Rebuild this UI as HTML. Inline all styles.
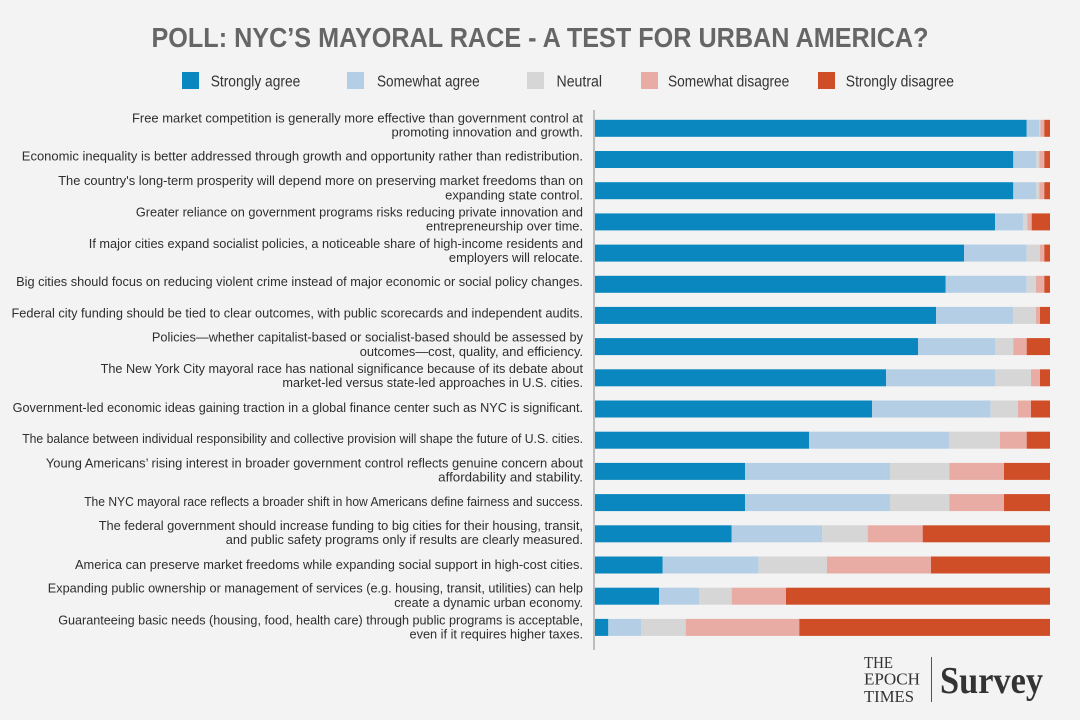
<!DOCTYPE html>
<html>
<head>
<meta charset="utf-8">
<style>
  html, body { margin: 0; padding: 0; background: #f3f3f3; }
  svg { display: block; }
  .lab { font-family: "Liberation Sans", sans-serif; font-size: 13px; fill: #2e2e2e; }
  .leg { font-family: "Liberation Sans", sans-serif; font-size: 15.5px; fill: #333; }
</style>
</head>
<body>
<svg width="1080" height="720" viewBox="0 0 1080 720" xmlns="http://www.w3.org/2000/svg">
  <rect x="0" y="0" width="1080" height="720" fill="#f3f3f3"/>

  <!-- Title -->
  <text x="151.5" y="47" font-family="Liberation Sans, sans-serif" font-weight="bold" font-size="28" fill="#666666" textLength="777" lengthAdjust="spacingAndGlyphs">POLL: NYC’S MAYORAL RACE - A TEST FOR URBAN AMERICA?</text>

  <!-- Legend -->
  <rect x="182" y="72" width="17" height="17" fill="#0b87bf"/>
  <text class="leg" x="210.7" y="86.5" textLength="89.6" lengthAdjust="spacingAndGlyphs">Strongly agree</text>
  <rect x="347" y="72" width="17" height="17" fill="#b4cfe5"/>
  <text class="leg" x="377" y="86.5" textLength="102.7" lengthAdjust="spacingAndGlyphs">Somewhat agree</text>
  <rect x="527" y="72" width="17" height="17" fill="#d6d6d6"/>
  <text class="leg" x="556.5" y="86.5" textLength="45.5" lengthAdjust="spacingAndGlyphs">Neutral</text>
  <rect x="641" y="72" width="17" height="17" fill="#e8aca4"/>
  <text class="leg" x="668" y="86.5" textLength="121.3" lengthAdjust="spacingAndGlyphs">Somewhat disagree</text>
  <rect x="818" y="72" width="17" height="17" fill="#d04e27"/>
  <text class="leg" x="845.8" y="86.5" textLength="108.2" lengthAdjust="spacingAndGlyphs">Strongly disagree</text>

  <!-- Axis line -->
  <line x1="594" y1="110" x2="594" y2="650" stroke="#8a8a8a" stroke-width="1"/>

  <g id="bars"></g>
  <g id="labels"></g>

  <!-- Bars (static) -->
  <g>
    <!-- Row 1 top 119.8 -->
    <rect x="595" y="119.8" width="431.7" height="17" fill="#0b87bf"/>
    <rect x="1026.7" y="119.8" width="12.3" height="17" fill="#b4cfe5"/>
    <rect x="1039" y="119.8" width="1.5" height="17" fill="#d6d6d6"/>
    <rect x="1040.5" y="119.8" width="3.8" height="17" fill="#e8aca4"/>
    <rect x="1044.3" y="119.8" width="5.7" height="17" fill="#d04e27"/>
    <!-- Row 2 top 151.0 -->
    <rect x="595" y="151.0" width="418.3" height="17" fill="#0b87bf"/>
    <rect x="1013.3" y="151.0" width="22.7" height="17" fill="#b4cfe5"/>
    <rect x="1036" y="151.0" width="3.3" height="17" fill="#d6d6d6"/>
    <rect x="1039.3" y="151.0" width="5" height="17" fill="#e8aca4"/>
    <rect x="1044.3" y="151.0" width="5.7" height="17" fill="#d04e27"/>
    <!-- Row 3 top 182.2 -->
    <rect x="595" y="182.2" width="418.3" height="17" fill="#0b87bf"/>
    <rect x="1013.3" y="182.2" width="22.7" height="17" fill="#b4cfe5"/>
    <rect x="1036" y="182.2" width="3.3" height="17" fill="#d6d6d6"/>
    <rect x="1039.3" y="182.2" width="5" height="17" fill="#e8aca4"/>
    <rect x="1044.3" y="182.2" width="5.7" height="17" fill="#d04e27"/>
    <!-- Row 4 top 213.4 -->
    <rect x="595" y="213.4" width="400" height="17" fill="#0b87bf"/>
    <rect x="995" y="213.4" width="28.3" height="17" fill="#b4cfe5"/>
    <rect x="1023.3" y="213.4" width="4" height="17" fill="#d6d6d6"/>
    <rect x="1027.3" y="213.4" width="4.4" height="17" fill="#e8aca4"/>
    <rect x="1031.7" y="213.4" width="18.3" height="17" fill="#d04e27"/>
    <!-- Row 5 top 244.6 -->
    <rect x="595" y="244.6" width="369" height="17" fill="#0b87bf"/>
    <rect x="964" y="244.6" width="62.7" height="17" fill="#b4cfe5"/>
    <rect x="1026.7" y="244.6" width="13.3" height="17" fill="#d6d6d6"/>
    <rect x="1040" y="244.6" width="4.3" height="17" fill="#e8aca4"/>
    <rect x="1044.3" y="244.6" width="5.7" height="17" fill="#d04e27"/>
    <!-- Row 6 top 275.8 -->
    <rect x="595" y="275.8" width="350.7" height="17" fill="#0b87bf"/>
    <rect x="945.7" y="275.8" width="81" height="17" fill="#b4cfe5"/>
    <rect x="1026.7" y="275.8" width="9.3" height="17" fill="#d6d6d6"/>
    <rect x="1036" y="275.8" width="8.3" height="17" fill="#e8aca4"/>
    <rect x="1044.3" y="275.8" width="5.7" height="17" fill="#d04e27"/>
    <!-- Row 7 top 306.9 -->
    <rect x="595" y="306.9" width="341" height="17" fill="#0b87bf"/>
    <rect x="936" y="306.9" width="77.3" height="17" fill="#b4cfe5"/>
    <rect x="1013.3" y="306.9" width="22.7" height="17" fill="#d6d6d6"/>
    <rect x="1036" y="306.9" width="4" height="17" fill="#e8aca4"/>
    <rect x="1040" y="306.9" width="10" height="17" fill="#d04e27"/>
    <!-- Row 8 top 338.1 -->
    <rect x="595" y="338.1" width="323" height="17" fill="#0b87bf"/>
    <rect x="918" y="338.1" width="77" height="17" fill="#b4cfe5"/>
    <rect x="995" y="338.1" width="18.3" height="17" fill="#d6d6d6"/>
    <rect x="1013.3" y="338.1" width="13.4" height="17" fill="#e8aca4"/>
    <rect x="1026.7" y="338.1" width="23.3" height="17" fill="#d04e27"/>
    <!-- Row 9 top 369.3 -->
    <rect x="595" y="369.3" width="291" height="17" fill="#0b87bf"/>
    <rect x="886" y="369.3" width="109" height="17" fill="#b4cfe5"/>
    <rect x="995" y="369.3" width="36" height="17" fill="#d6d6d6"/>
    <rect x="1031" y="369.3" width="9" height="17" fill="#e8aca4"/>
    <rect x="1040" y="369.3" width="10" height="17" fill="#d04e27"/>
    <!-- Row 10 top 400.5 -->
    <rect x="595" y="400.5" width="277" height="17" fill="#0b87bf"/>
    <rect x="872" y="400.5" width="118.7" height="17" fill="#b4cfe5"/>
    <rect x="990.7" y="400.5" width="27.3" height="17" fill="#d6d6d6"/>
    <rect x="1018" y="400.5" width="13" height="17" fill="#e8aca4"/>
    <rect x="1031" y="400.5" width="19" height="17" fill="#d04e27"/>
    <!-- Row 11 top 431.7 -->
    <rect x="595" y="431.7" width="214" height="17" fill="#0b87bf"/>
    <rect x="809" y="431.7" width="140.3" height="17" fill="#b4cfe5"/>
    <rect x="949.3" y="431.7" width="50.7" height="17" fill="#d6d6d6"/>
    <rect x="1000" y="431.7" width="26.7" height="17" fill="#e8aca4"/>
    <rect x="1026.7" y="431.7" width="23.3" height="17" fill="#d04e27"/>
    <!-- Row 12 top 462.9 -->
    <rect x="595" y="462.9" width="150" height="17" fill="#0b87bf"/>
    <rect x="745" y="462.9" width="145" height="17" fill="#b4cfe5"/>
    <rect x="890" y="462.9" width="59.3" height="17" fill="#d6d6d6"/>
    <rect x="949.3" y="462.9" width="54.7" height="17" fill="#e8aca4"/>
    <rect x="1004" y="462.9" width="46" height="17" fill="#d04e27"/>
    <!-- Row 13 top 494.1 -->
    <rect x="595" y="494.1" width="150" height="17" fill="#0b87bf"/>
    <rect x="745" y="494.1" width="145" height="17" fill="#b4cfe5"/>
    <rect x="890" y="494.1" width="59.3" height="17" fill="#d6d6d6"/>
    <rect x="949.3" y="494.1" width="54.7" height="17" fill="#e8aca4"/>
    <rect x="1004" y="494.1" width="46" height="17" fill="#d04e27"/>
    <!-- Row 14 top 525.3 -->
    <rect x="595" y="525.3" width="136.7" height="17" fill="#0b87bf"/>
    <rect x="731.7" y="525.3" width="90.6" height="17" fill="#b4cfe5"/>
    <rect x="822.3" y="525.3" width="45.4" height="17" fill="#d6d6d6"/>
    <rect x="867.7" y="525.3" width="55" height="17" fill="#e8aca4"/>
    <rect x="922.7" y="525.3" width="127.3" height="17" fill="#d04e27"/>
    <!-- Row 15 top 556.5 -->
    <rect x="595" y="556.5" width="67.7" height="17" fill="#0b87bf"/>
    <rect x="662.7" y="556.5" width="96" height="17" fill="#b4cfe5"/>
    <rect x="758.7" y="556.5" width="68.3" height="17" fill="#d6d6d6"/>
    <rect x="827" y="556.5" width="104" height="17" fill="#e8aca4"/>
    <rect x="931" y="556.5" width="119" height="17" fill="#d04e27"/>
    <!-- Row 16 top 587.7 -->
    <rect x="595" y="587.7" width="64" height="17" fill="#0b87bf"/>
    <rect x="659" y="587.7" width="40" height="17" fill="#b4cfe5"/>
    <rect x="699" y="587.7" width="32.7" height="17" fill="#d6d6d6"/>
    <rect x="731.7" y="587.7" width="54.3" height="17" fill="#e8aca4"/>
    <rect x="786" y="587.7" width="264" height="17" fill="#d04e27"/>
    <!-- Row 17 top 618.9 -->
    <rect x="595" y="618.9" width="13.3" height="17" fill="#0b87bf"/>
    <rect x="608.3" y="618.9" width="32.7" height="17" fill="#b4cfe5"/>
    <rect x="641" y="618.9" width="44.7" height="17" fill="#d6d6d6"/>
    <rect x="685.7" y="618.9" width="113.6" height="17" fill="#e8aca4"/>
    <rect x="799.3" y="618.9" width="250.7" height="17" fill="#d04e27"/>
  </g>

  <!-- Labels (right aligned at x=583) -->
  <g class="lab" text-anchor="end">
    <!-- 1: center 128.3 -->
    <text class="lab" x="583" y="122.4" textLength="451" lengthAdjust="spacingAndGlyphs">Free market competition is generally more effective than government control at</text>
    <text class="lab" x="583" y="136.6" textLength="191.5" lengthAdjust="spacingAndGlyphs">promoting innovation and growth.</text>
    <!-- 2: center 159.5 -->
    <text class="lab" x="583" y="160.5" textLength="561.2" lengthAdjust="spacingAndGlyphs">Economic inequality is better addressed through growth and opportunity rather than redistribution.</text>
    <!-- 3: center 190.7 -->
    <text class="lab" x="583" y="185.1" textLength="524.8" lengthAdjust="spacingAndGlyphs">The country's long-term prosperity will depend more on preserving market freedoms than on</text>
    <text class="lab" x="583" y="199.3" textLength="137.9" lengthAdjust="spacingAndGlyphs">expanding state control.</text>
    <!-- 4: center 221.9 -->
    <text class="lab" x="583" y="216.5" textLength="447.1" lengthAdjust="spacingAndGlyphs">Greater reliance on government programs risks reducing private innovation and</text>
    <text class="lab" x="583" y="230.7" textLength="157" lengthAdjust="spacingAndGlyphs">entrepreneurship over time.</text>
    <!-- 5: center 253.1 -->
    <text class="lab" x="583" y="247.9" textLength="494.2" lengthAdjust="spacingAndGlyphs">If major cities expand socialist policies, a noticeable share of high-income residents and</text>
    <text class="lab" x="583" y="262.1" textLength="134.1" lengthAdjust="spacingAndGlyphs">employers will relocate.</text>
    <!-- 6: center 284.3 -->
    <text class="lab" x="583" y="286.2" textLength="566.9" lengthAdjust="spacingAndGlyphs">Big cities should focus on reducing violent crime instead of major economic or social policy changes.</text>
    <!-- 7: center 315.4 -->
    <text class="lab" x="583" y="317.5" textLength="571.5" lengthAdjust="spacingAndGlyphs">Federal city funding should be tied to clear outcomes, with public scorecards and independent audits.</text>
    <!-- 8: center 346.6 -->
    <text class="lab" x="583" y="341.6" textLength="431.1" lengthAdjust="spacingAndGlyphs">Policies—whether capitalist-based or socialist-based should be assessed by</text>
    <text class="lab" x="583" y="355.8" textLength="223.3" lengthAdjust="spacingAndGlyphs">outcomes—cost, quality, and efficiency.</text>
    <!-- 9: center 377.8 -->
    <text class="lab" x="583" y="373.0" textLength="482.4" lengthAdjust="spacingAndGlyphs">The New York City mayoral race has national significance because of its debate about</text>
    <text class="lab" x="583" y="387.2" textLength="300.6" lengthAdjust="spacingAndGlyphs">market-led versus state-led approaches in U.S. cities.</text>
    <!-- 10: center 409.0 -->
    <text class="lab" x="583" y="411.8" textLength="570.4" lengthAdjust="spacingAndGlyphs">Government-led economic ideas gaining traction in a global finance center such as NYC is significant.</text>
    <!-- 11: center 440.2 -->
    <text class="lab" x="583" y="443.2" textLength="560.8" lengthAdjust="spacingAndGlyphs">The balance between individual responsibility and collective provision will shape the future of U.S. cities.</text>
    <!-- 12: center 471.4 -->
    <text class="lab" x="583" y="467.5" textLength="537.1" lengthAdjust="spacingAndGlyphs">Young Americans’ rising interest in broader government control reflects genuine concern about</text>
    <text class="lab" x="583" y="481.7" textLength="144.8" lengthAdjust="spacingAndGlyphs">affordability and stability.</text>
    <!-- 13: center 502.6 -->
    <text class="lab" x="583" y="506.1" textLength="498.8" lengthAdjust="spacingAndGlyphs">The NYC mayoral race reflects a broader shift in how Americans define fairness and success.</text>
    <!-- 14: center 533.8 -->
    <text class="lab" x="583" y="530.0" textLength="484.3" lengthAdjust="spacingAndGlyphs">The federal government should increase funding to big cities for their housing, transit,</text>
    <text class="lab" x="583" y="544.2" textLength="357.2" lengthAdjust="spacingAndGlyphs">and public safety programs only if results are clearly measured.</text>
    <!-- 15: center 565.0 -->
    <text class="lab" x="583" y="568.9" textLength="508" lengthAdjust="spacingAndGlyphs">America can preserve market freedoms while expanding social support in high-cost cities.</text>
    <!-- 16: center 596.2 -->
    <text class="lab" x="583" y="592.6" textLength="535.2" lengthAdjust="spacingAndGlyphs">Expanding public ownership or management of services (e.g. housing, transit, utilities) can help</text>
    <text class="lab" x="583" y="606.8" textLength="188.8" lengthAdjust="spacingAndGlyphs">create a dynamic urban economy.</text>
    <!-- 17: center 627.4 -->
    <text class="lab" x="583" y="624.3" textLength="524.8" lengthAdjust="spacingAndGlyphs">Guaranteeing basic needs (housing, food, health care) through public programs is acceptable,</text>
    <text class="lab" x="583" y="638.5" textLength="173.5" lengthAdjust="spacingAndGlyphs">even if it requires higher taxes.</text>
  </g>

  <!-- Logo -->
  <g font-family="Liberation Serif, serif" fill="#333333">
    <text x="864" y="668" font-size="17" textLength="29" lengthAdjust="spacingAndGlyphs">THE</text>
    <text x="864" y="684.5" font-size="17" textLength="56" lengthAdjust="spacingAndGlyphs">EPOCH</text>
    <text x="864" y="702" font-size="17" textLength="50" lengthAdjust="spacingAndGlyphs">TIMES</text>
    <text x="940" y="693" font-size="38" font-weight="bold" textLength="103" lengthAdjust="spacingAndGlyphs">Survey</text>
  </g>
  <line x1="931.5" y1="657" x2="931.5" y2="702" stroke="#555555" stroke-width="1"/>
</svg>
</body>
</html>
